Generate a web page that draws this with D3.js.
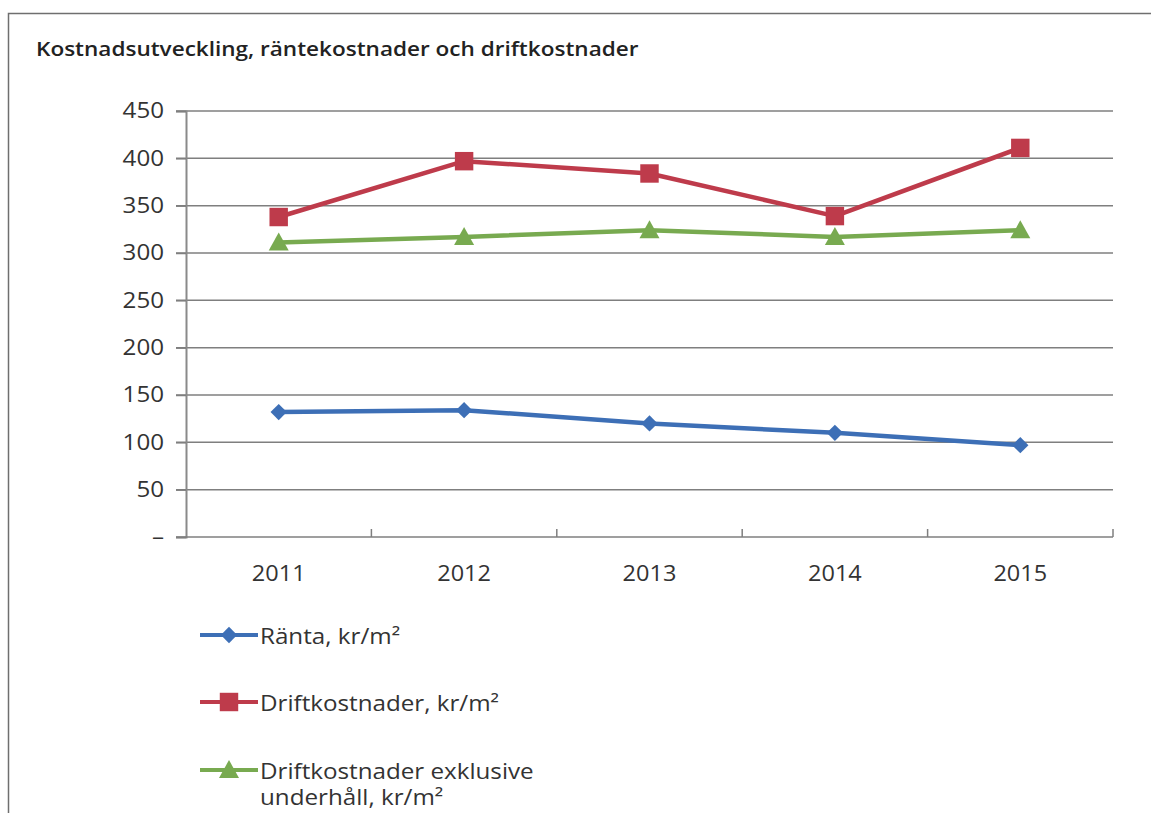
<!DOCTYPE html>
<html>
<head>
<meta charset="utf-8">
<script src="https://cdn.jsdelivr.net/npm/d3@7"></script>
<style>
  body { margin: 0; background: #fff; }
  svg text { font-family: "Open Sans", "Liberation Sans", sans-serif; }
</style>
</head>
<body>
<div id="chart"></div>
<script>
// years on the x axis
var years = ["2011", "2012", "2013", "2014", "2015"];

// values, kr/m²
var ranta = [132, 134, 120, 110, 97];
var drift = [338, 397, 384, 339, 411];
var driftExkl = [311, 317, 324, 317, 324];

var yTicks = [0, 50, 100, 150, 200, 250, 300, 350, 400, 450];

var seriesNames = ["Ränta, kr/m²", "Driftkostnader, kr/m²", "Driftkostnader exklusive|underhåll, kr/m²"];

var width = 1151,
    height = 813;

var blue = "#3d6fb6",
    red = "#be3b4b",
    green = "#78aa50";

var series = [
  {name: seriesNames[0], values: ranta, color: blue, shape: "diamond"},
  {name: seriesNames[1], values: drift, color: red, shape: "square"},
  {name: seriesNames[2], values: driftExkl, color: green, shape: "triangle"}
];

var svg = d3.select("#chart")
  .append("svg")
  .attr("width", width)
  .attr("height", height);

// outer frame (only top and left visible)
svg.append("path")
  .attr("d", "M8.5," + height + " V13.5 H" + width)
  .attr("fill", "none")
  .attr("stroke", "#6f6f6f")
  .attr("stroke-width", 1.5);

svg.append("text")
  .attr("transform", "translate(36,56) scale(1.1,1)")
  .style("font-size", "20.5px")
  .style("font-weight", 600)
  .style("fill", "#222")
  .text("Kostnadsutveckling, räntekostnader och driftkostnader");

// plot area edges
var plotLeft = 186, plotRight = 1113, plotTop = 111, plotBottom = 537;

var x = d3.scaleBand().domain(years).range([plotLeft, plotRight]);
var y = d3.scaleLinear().domain([0, 450]).range([plotBottom, plotTop]);

// gridlines
svg.append("g")
  .selectAll("line")
  .data(yTicks.filter(d => d > 0))
  .enter().append("line")
  .attr("x1", plotLeft - 10)
  .attr("x2", plotRight)
  .attr("y1", d => y(d))
  .attr("y2", d => y(d))
  .attr("stroke", "#7f7f7f")
  .attr("stroke-width", 1.5);

// y axis
var yAxis = svg.append("g")
  .attr("transform", "translate(" + plotLeft + ",0)")
  .call(d3.axisLeft(y).tickValues(yTicks).tickSize(10).tickPadding(10)
    .tickFormat(d => d === 0 ? "–" : d));
yAxis.select(".domain").attr("stroke", "#8a8a8a").attr("stroke-width", 2);
yAxis.selectAll(".tick line").attr("stroke", "#7f7f7f").attr("stroke-width", 1.5);
yAxis.selectAll("text")
  .style("font-size", "21px")
  .style("fill", "#333")
  .attr("transform", "scale(1.15,1)")
  .attr("x", -22 / 1.15);

// x axis
svg.append("line")
  .attr("x1", plotLeft - 10)
  .attr("x2", plotRight)
  .attr("y1", plotBottom)
  .attr("y2", plotBottom)
  .attr("stroke", "#7f7f7f")
  .attr("stroke-width", 1.5);

var bounds = years.map(d => x(d)).concat([plotRight]);
svg.append("g")
  .selectAll("line")
  .data(bounds.slice(1))
  .enter().append("line")
  .attr("x1", d => d)
  .attr("x2", d => d)
  .attr("y1", plotBottom)
  .attr("y2", plotBottom - 8)
  .attr("stroke", "#7f7f7f")
  .attr("stroke-width", 1.5);

svg.append("g")
  .selectAll("text")
  .data(years)
  .enter().append("text")
  .attr("transform", d => "translate(" + (x(d) + x.bandwidth() / 2) + ",581) scale(1.12,1)")
  .attr("text-anchor", "middle")
  .style("font-size", "21px")
  .style("fill", "#333")
  .text(d => d);

function markerPath(shape) {
  if (shape == "diamond") return d3.symbol().type(d3.symbolDiamond2).size(170)();
  if (shape == "square") return d3.symbol().type(d3.symbolSquare).size(340)();
  return "M0,-10 L10,8 L-10,8 Z";
}

var line = d3.line()
  .x((d, i) => x(years[i]) + x.bandwidth() / 2)
  .y(d => y(d));

series.forEach(function (s) {
  svg.append("path")
    .datum(s.values)
    .attr("d", line)
    .attr("fill", "none")
    .attr("stroke", s.color)
    .attr("stroke-width", 4.5)
    .attr("stroke-linejoin", "round");

  svg.append("g")
    .selectAll("path")
    .data(s.values)
    .enter().append("path")
    .attr("d", markerPath(s.shape))
    .attr("fill", s.color)
    .attr("transform", (d, i) => "translate(" + (x(years[i]) + x.bandwidth() / 2) + "," + y(d) + ")");
});

// legend
var legendY = [635, 702, 770];
var legend = svg.append("g")
  .selectAll("g")
  .data(series)
  .enter().append("g")
  .attr("transform", (d, i) => "translate(200," + legendY[i] + ")");

legend.append("line")
  .attr("x1", 0)
  .attr("x2", 58)
  .attr("stroke", d => d.color)
  .attr("stroke-width", 4);

legend.append("path")
  .attr("d", d => markerPath(d.shape))
  .attr("fill", d => d.color)
  .attr("transform", "translate(29,0)");

// each label line as its own text so wrapped lines stay separate
legend.each(function (d) {
  var g = d3.select(this);
  d.name.split("|").forEach(function (l, i) {
    g.append("text")
      .attr("transform", "translate(60," + (9 + i * 26) + ") scale(1.1,1)")
      .style("font-size", "22px")
      .style("fill", "#333")
      .text(l);
  });
});
</script>
</body>
</html>
